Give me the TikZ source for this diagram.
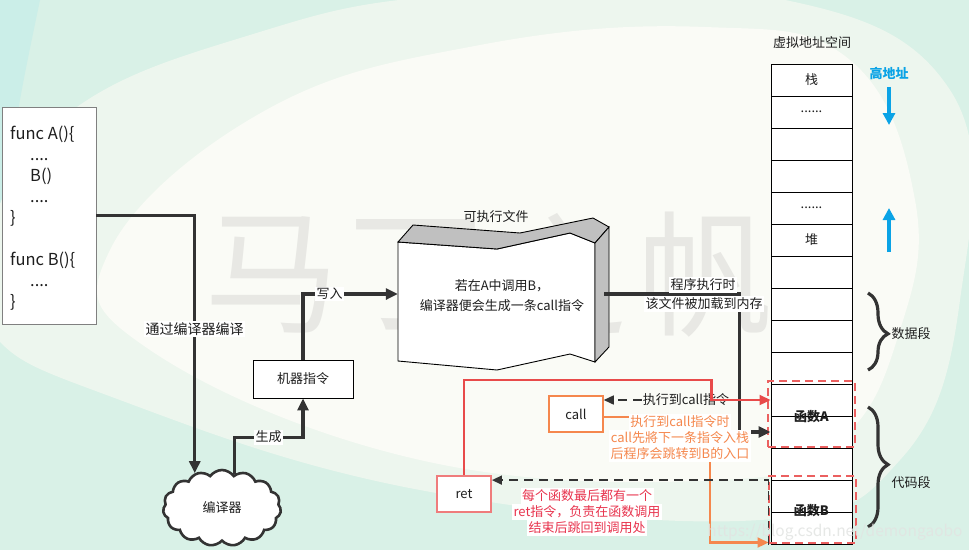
\documentclass[tikz,border=0pt]{standalone}
\usepackage{fontspec}
\setmainfont{Noto Sans CJK SC}
\usetikzlibrary{arrows.meta,shapes.symbols,decorations.pathreplacing,calc}
\definecolor{mint}{HTML}{D9F1E7}
\definecolor{band}{HTML}{EDF6EE}
\definecolor{paper}{HTML}{FAFBF6}
\definecolor{tealc}{HTML}{CBEEE8}
\definecolor{ink}{HTML}{333333}
\definecolor{txt}{HTML}{1E1E1E}
\definecolor{wm}{HTML}{E8E8E4}
\definecolor{redl}{HTML}{E84A4A}
\definecolor{redt}{HTML}{E8344E}
\definecolor{reddsh}{HTML}{EB6060}
\definecolor{retb}{HTML}{EF7C7C}
\definecolor{orl}{HTML}{F5874D}
\definecolor{skyb}{HTML}{0AA3E6}
\definecolor{gface}{HTML}{C0C0C0}
\definecolor{urlc}{HTML}{E2E4E2}
\begin{document}
\begin{tikzpicture}[x=1pt,y=-1pt,
  font=\fontsize{13}{15}\selectfont,
  every node/.style={text=txt},
  wbox/.style={draw=black,line width=0.9pt,fill=white,inner sep=0pt},
  conn/.style={draw=ink,line width=3.2pt,-{Triangle[length=12pt,width=11pt]}},
  lbl/.style={fill=white,inner sep=1.5pt},
  memrow/.style={draw=black,line width=1pt,fill=white,minimum width=81pt,minimum height=32pt,inner sep=0pt},
  reddash/.style={draw=reddsh,line width=1.5pt,dash pattern=on 8pt off 5pt,inner sep=0pt},
  redc/.style={draw=redl,line width=2.2pt,-{Triangle[length=11pt,width=10pt]}},
  orc/.style={draw=orl,line width=2.2pt,-{Triangle[length=11pt,width=10pt]}},
  dashc/.style={draw=ink,line width=1.5pt,dash pattern=on 9pt off 6pt,-{Triangle[length=10pt,width=9pt]}},
  bluearr/.style={draw=skyb,line width=3.2pt,-{Triangle[length=12pt,width=12pt]}},
  brc/.style={draw=ink,line width=3.2pt,decorate,decoration={brace,amplitude=20pt,aspect=#1}},
  codetxt/.style={anchor=base west,inner sep=0pt,font=\fontsize{16.5}{18}\selectfont},
  wmk/.style={text=wm,font=\fontsize{135}{140}\selectfont,inner sep=0pt}
]
\useasboundingbox (0,0) rectangle (969,550);
% background
\fill[mint] (0,0) rectangle (969,550);
\fill[tealc] (0,0) -- (40,0) .. controls (15,120) .. (0,260) -- cycle;
\fill[band] plot[smooth cycle,tension=0.7] coordinates {(-10,230) (70,112) (250,35) (451,-5) (760,-5) (950,90) (960,300) (900,460) (760,520) (420,490) (120,400) (-10,330)};
\fill[paper] plot[smooth cycle,tension=0.7] coordinates {(110,250) (266,110) (480,45) (705,27) (850,60) (915,200) (900,330) (840,440) (720,480) (420,460) (150,350)};
% watermark
\node[wmk] (wm1) at (272,275) {马};
\node[wmk] (wm2) at (416,275) {丁};
\node[wmk] (wm3) at (560,275) {之};
\node[wmk] (wm4) at (705,275) {帆};

% code box
\node[draw=gray,line width=0.9pt,fill=white,minimum width=94pt,minimum height=217pt,inner sep=0pt] (code) at (49,215.5) {};
\node[codetxt] (c1) at (10,139) {func A()\{};
\node[codetxt] (c2) at (30,160) {....};
\node[codetxt] (c3) at (30,181) {B()};
\node[codetxt] (c4) at (30,202) {....};
\node[codetxt] (c5) at (10,223) {\}};
\node[codetxt] (c6) at (10,265) {func B()\{};
\node[codetxt] (c7) at (30,286) {....};
\node[codetxt] (c8) at (10,307) {\}};

% compiler cloud
\node[cloud,cloud puffs=15,cloud puff arc=110,aspect=1.55,draw=ink,line width=2.6pt,fill=white,minimum width=118pt,minimum height=76pt,inner sep=0pt] (cloud) at (222,508) {编译器};

% machine instruction box
\node[wbox,minimum width=100pt,minimum height=38pt] (mach) at (303,379) {机器指令};

% executable file
\fill[white,draw=black,line width=0.9pt] (398,242) -- (497,249) -- (570,233) -- (595,243) -- (595,362) -- (570,354) -- (497,370) -- (398,361) -- cycle;
\fill[gface,draw=black,line width=0.9pt] (398,242) -- (413,225) -- (520,233) -- (593,218) -- (609,227) -- (595,243) -- (570,233) -- (497,249) -- cycle;
\fill[gface,draw=black,line width=0.9pt] (595,243) -- (609,227) -- (609,347) -- (595,362) -- cycle;
\node[inner sep=0pt,minimum width=197pt,minimum height=120pt] (exec) at (496.5,302) {};
\node (exectitle) at (496,217) {可执行文件};
\node[align=center,font=\fontsize{13}{20}\selectfont] (exectxt) at (502,296) {若在A中调用B，\\编译器便会生成一条call指令};

% memory column
\node (memtitle) at (812,43) {虚拟地址空间};
\foreach \k in {1,...,15} {
  \node[memrow] (r\k) at (811.5,{80+32*(\k-1)}) {};
}
\node (t1) at (r1) {栈};
\node (t2) at (r2) {......};
\node (t5) at (r5) {......};
\node (t6) at (r6) {堆};
\node[font=\bfseries\fontsize{13}{15}\selectfont,inner sep=0pt] (fa) at (r11.south) {函数A};
\node[font=\bfseries\fontsize{13}{15}\selectfont,inner sep=0pt] (fb) at ([yshift=2pt]r14.south) {函数B};
\node[reddash,minimum width=87pt,minimum height=66pt] (boxa) at (811.5,414) {};
\node[reddash,minimum width=87pt,minimum height=67pt] (boxb) at (812.5,509.5) {};

% high address and arrows
\node[text=skyb,font=\bfseries\fontsize{13}{15}\selectfont] (high) at (889,73) {高地址};
\coordinate (bd1) at (889,125);
\coordinate (bu0) at (889,252);
\coordinate (bu1) at (889,208);
\draw[bluearr] (high.south) ++(0,4) -- (bd1);
\draw[bluearr] (bu0) -- (bu1);

% braces
\coordinate (bd0) at (868,293);
\coordinate (bd9) at (868,370);
\coordinate (bc0) at (868,407);
\coordinate (bc9) at (868,527);
\draw[brc=0.53] (bd0) -- (bd9);
\draw[brc=0.48] (bc0) -- (bc9);
\node[anchor=west] (dseg) at (888,334) {数据段};
\node[anchor=west] (cseg) at (888,483) {代码段};

% main connectors
\draw[conn] (code.east) -| (cloud.128) node[pos=0.72,lbl,font=\fontsize{14}{16}\selectfont] {通过编译器编译};
\draw[conn] (cloud.70) -- ++(0,-37) -| node[pos=0.25,lbl] {生成} (mach.south);
\draw[conn] (mach.north) |- node[pos=0.64,lbl] {写入} ([yshift=8pt]exec.west);
\draw[conn] ([xshift=9pt,yshift=8pt]exec.east) -| ($(r12.west)+(-31,0)$) -- (r12.west);
\node[lbl] (ld1) at (703,285) {程序执行时};
\node[lbl] (ld2) at (704,304) {该文件被加载到内存};

% call / ret
\node[draw=orl,line width=1.5pt,fill=white,minimum width=54pt,minimum height=36pt,inner sep=0pt] (call) at (576,414) {call};
\node[draw=retb,line width=1.8pt,fill=white,minimum width=54pt,minimum height=36pt,inner sep=0pt] (ret) at (464,494) {ret};

\node[inner sep=1pt] (lcall) at (686,400) {执行到call指令};
\draw[dashc] (lcall.west) -- (lcall.west -| call.east);
\draw[redc] (ret.north) |- ($(r11.west)+(-59,-20)$) -- ($(r11.west)+(-59,0)$) -- (r11.west);

\draw[orc] ([yshift=-3pt]call.east) -- ++(106,0) |- ($(r15.south west)+(-2,-2)$);
\node[lbl,text=orl] (lo1) at (680,422) {执行到call指令时};
\node[lbl,text=orl] (lo2) at (680,438) {call先將下一条指令入栈};
\node[lbl,text=orl] (lo3) at (680,454) {后程序会跳转到B的入口};

\draw[dashc] ($(r15.south west)+(-2,0)$) |- ($(ret.north east)+(0,5)$);
\node[lbl,text=redt] (lr1) at (587,496) {每个函数最后都有一个};
\node[lbl,text=redt] (lr2) at (587,512) {ret指令，负责在函数调用};
\node[lbl,text=redt] (lr3) at (587,528) {结束后跳回到调用处};

% url watermark
\node[text=urlc,opacity=0.85,font=\fontsize{15.5}{17}\selectfont,inner sep=0pt] (url) at (835,532) {https://blog.csdn.net/demongaobo};
\end{tikzpicture}
\end{document}
